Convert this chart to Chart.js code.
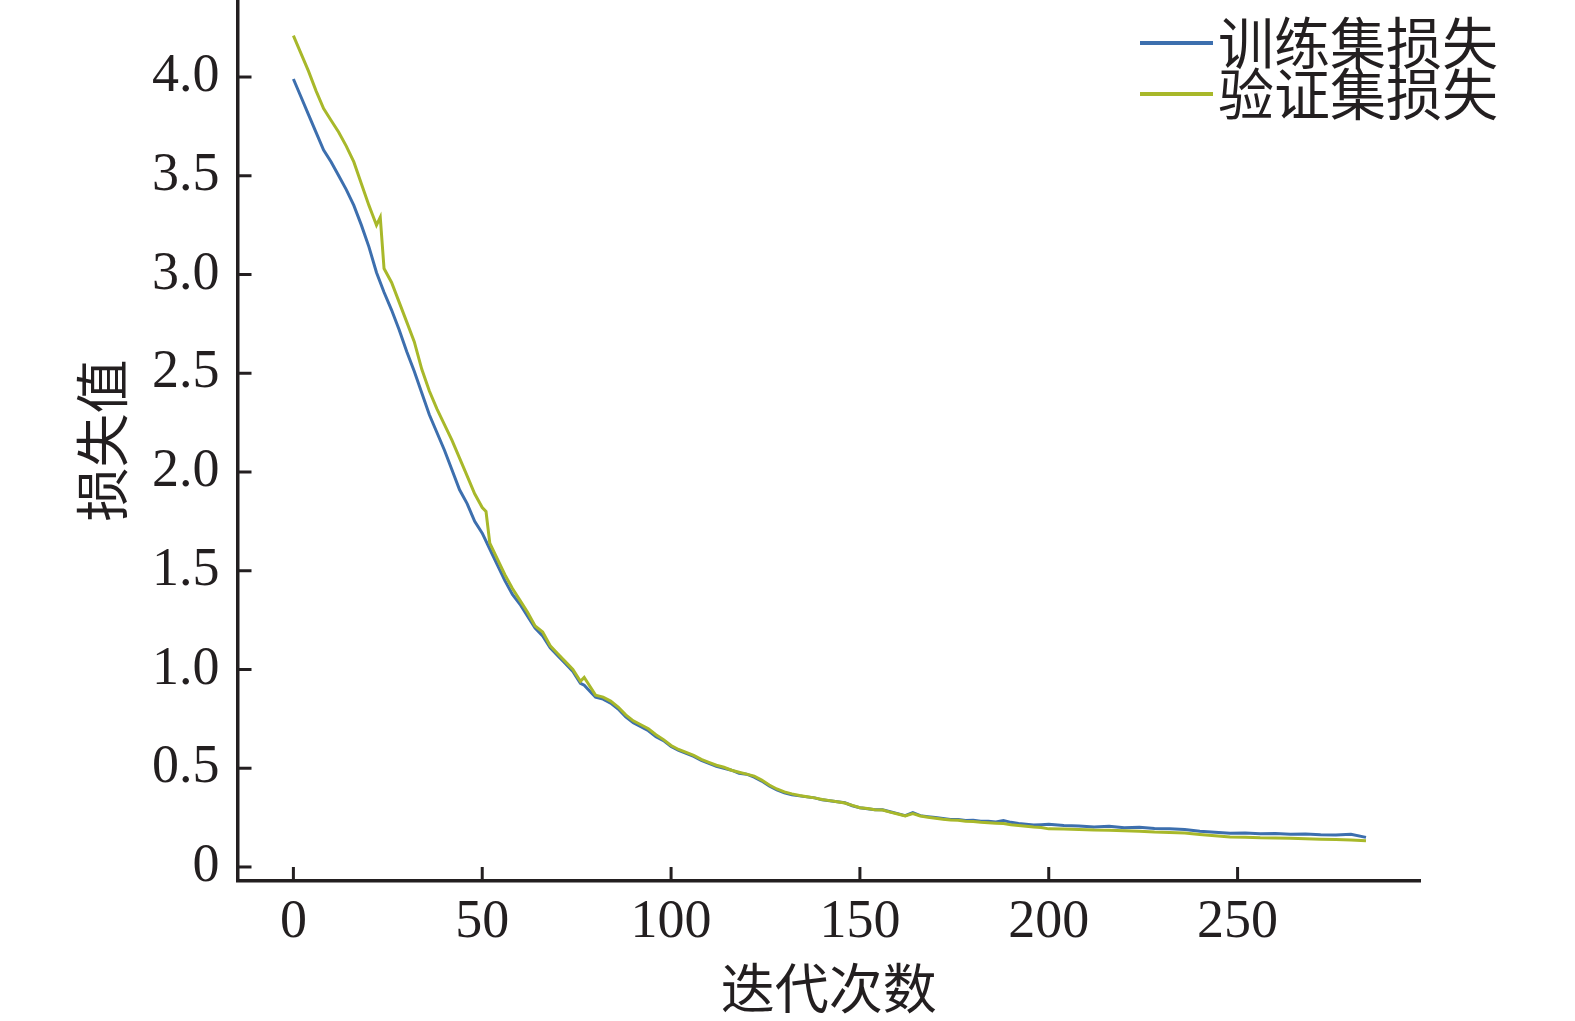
<!DOCTYPE html>
<html lang="zh">
<head>
    <meta charset="UTF-8">
    <title>损失值曲线</title>
    <script src="https://cdn.jsdelivr.net/npm/chart.js"></script>
    <style>
        html, body { margin: 0; padding: 0; background: #fff; }
        #wrap { width: 1575px; height: 1021px; position: relative; }
    </style>
</head>
<body>
<div id="wrap"><canvas id="lossChart"></canvas></div>
<script>
// 训练集损失 (iteration, loss)
var trainIter = [0,2,4,6,8,10,12,14,16,18,20,22,24,26,28,30,32,34,36,38,40,42,44,46,48,50,52,54,56,58,60,62,64,66,68,70,72,74,76,77,78,79,80,82,84,86,88,90,92,94,96,98,100,102,104,106,108,110,112,114,116,118,120,122,124,126,128,130,132,134,136,138,140,142,144,146,148,150,152,154,156,158,160,162,164,166,168,170,172,174,176,178,180,182,184,186,188,190,192,194,196,198,200,204,208,212,216,220,224,228,232,236,240,244,248,252,256,260,264,268,272,276,280,284];
var trainLoss = [3.99,3.90,3.81,3.72,3.63,3.57,3.50,3.43,3.35,3.25,3.14,3.01,2.91,2.82,2.72,2.61,2.51,2.40,2.29,2.20,2.11,2.01,1.91,1.84,1.75,1.69,1.61,1.53,1.45,1.38,1.33,1.27,1.21,1.17,1.11,1.07,1.03,0.99,0.93,0.92,0.90,0.88,0.86,0.85,0.83,0.80,0.76,0.73,0.71,0.69,0.66,0.64,0.61,0.59,0.575,0.56,0.54,0.525,0.51,0.50,0.49,0.475,0.47,0.455,0.435,0.41,0.39,0.375,0.365,0.36,0.355,0.35,0.34,0.335,0.33,0.325,0.31,0.30,0.295,0.29,0.29,0.28,0.27,0.26,0.275,0.26,0.255,0.25,0.245,0.24,0.24,0.235,0.236,0.232,0.232,0.228,0.235,0.226,0.22,0.216,0.212,0.214,0.216,0.21,0.207,0.203,0.206,0.199,0.201,0.195,0.194,0.19,0.181,0.176,0.171,0.172,0.168,0.17,0.166,0.167,0.163,0.162,0.166,0.15];

// 验证集损失
var valIter = [0,2,4,6,8,10,12,14,16,18,20,21,22,23,24,26,28,30,32,34,36,38,40,42,44,46,48,50,51,52,54,56,58,60,62,64,66,68,70,72,74,76,77,78,80,82,84,86,88,90,92,94,96,98,100,102,104,106,108,110,112,114,116,118,120,122,124,126,128,130,132,134,136,138,140,142,144,146,148,150,152,154,156,158,160,162,164,166,168,170,172,174,176,178,180,182,184,186,188,190,192,194,196,198,200,204,208,212,216,220,224,228,232,236,240,244,248,252,256,260,264,268,272,276,280,284];
var valLoss = [4.21,4.12,4.03,3.93,3.84,3.78,3.72,3.65,3.57,3.46,3.35,3.30,3.25,3.29,3.03,2.96,2.86,2.76,2.66,2.52,2.41,2.32,2.24,2.16,2.07,1.98,1.89,1.82,1.80,1.64,1.56,1.48,1.41,1.35,1.29,1.22,1.19,1.12,1.08,1.04,1.00,0.94,0.96,0.93,0.87,0.86,0.84,0.81,0.77,0.74,0.72,0.70,0.67,0.645,0.615,0.595,0.58,0.565,0.545,0.53,0.515,0.505,0.49,0.48,0.47,0.46,0.44,0.415,0.395,0.38,0.37,0.362,0.356,0.35,0.342,0.336,0.33,0.324,0.312,0.30,0.296,0.29,0.288,0.278,0.268,0.258,0.27,0.258,0.252,0.247,0.242,0.238,0.236,0.232,0.23,0.226,0.224,0.222,0.22,0.214,0.21,0.206,0.202,0.2,0.193,0.192,0.19,0.187,0.186,0.183,0.181,0.177,0.175,0.172,0.165,0.158,0.152,0.151,0.148,0.147,0.145,0.143,0.141,0.139,0.137,0.133];

var seriesNames = ['训练集损失', '验证集损失'];
var seriesColors = ['#3d6fae', '#a8b82a'];

var axisColor = '#231f20';
var serif = '"Liberation Serif", "Times New Roman", serif';
var cjk = '"Noto Sans CJK SC", "Liberation Serif", sans-serif';

function toPoints(xs, ys) {
    return xs.map(function (x, i) { return { x: x, y: ys[i] }; });
}

// ticks in this figure point into the plot, so draw them here
var inwardTicks = {
    id: 'inwardTicks',
    afterDraw: function (chart) {
        var ctx = chart.ctx, xs = chart.scales.x, ys = chart.scales.y;
        var area = chart.chartArea, len = 14;
        ctx.save();
        ctx.strokeStyle = axisColor;
        ctx.lineWidth = 3;
        xs.ticks.forEach(function (t) {
            var px = xs.getPixelForValue(t.value);
            ctx.beginPath();
            ctx.moveTo(px, area.bottom);
            ctx.lineTo(px, area.bottom - len);
            ctx.stroke();
        });
        ys.ticks.forEach(function (t) {
            var py = ys.getPixelForValue(t.value);
            ctx.beginPath();
            ctx.moveTo(area.left, py);
            ctx.lineTo(area.left + len, py);
            ctx.stroke();
        });
        ctx.restore();
    }
};

var cornerLegend = {
    id: 'cornerLegend',
    afterDraw: function (chart) {
        var ctx = chart.ctx;
        ctx.save();
        ctx.font = '56px ' + cjk;
        ctx.textBaseline = 'middle';
        ctx.fillStyle = axisColor;
        chart.data.datasets.forEach(function (ds, i) {
            var y = 43 + i * 51;
            ctx.strokeStyle = ds.borderColor;
            ctx.lineWidth = 4;
            ctx.beginPath();
            ctx.moveTo(1140, y);
            ctx.lineTo(1213, y);
            ctx.stroke();
            ctx.fillText(ds.label, 1218, y);
        });
        ctx.restore();
    }
};

new Chart(document.getElementById('lossChart'), {
    type: 'line',
    data: {
        datasets: [
            {
                label: seriesNames[0],
                data: toPoints(trainIter, trainLoss),
                borderColor: seriesColors[0],
                borderWidth: 3,
                pointRadius: 0,
                tension: 0,
                order: 1
            },
            {
                label: seriesNames[1],
                data: toPoints(valIter, valLoss),
                borderColor: seriesColors[1],
                borderWidth: 3,
                pointRadius: 0,
                tension: 0,
                order: 0
            }
        ]
    },
    options: {
        responsive: true,
        maintainAspectRatio: false,
        animation: false,
        layout: { padding: { left: 0, right: 155, top: 0, bottom: 0 } },
        plugins: {
            legend: { display: false },
            tooltip: { enabled: false }
        },
        scales: {
            x: {
                type: 'linear',
                min: -14.8,
                max: 298.3,
                grid: { display: false, drawTicks: false },
                border: { display: true, color: axisColor, width: 3.5 },
                ticks: {
                    stepSize: 50,
                    includeBounds: false,
                    maxRotation: 0,
                    padding: 9,
                    color: axisColor,
                    font: { family: serif, size: 54 }
                },
                title: {
                    display: true,
                    text: '迭代次数',
                    color: axisColor,
                    padding: { top: 0, bottom: 0 },
                    font: { family: cjk, size: 54 }
                },
                afterFit: function (s) {
                    s.height = 140;
                    s.paddingLeft = 0;
                    s.paddingRight = 0;
                }
            },
            y: {
                min: -0.071,
                max: 4.39,
                grid: { display: false, drawTicks: false },
                border: { display: true, color: axisColor, width: 3.5 },
                ticks: {
                    stepSize: 0.5,
                    includeBounds: false,
                    padding: 18,
                    color: axisColor,
                    font: { family: serif, size: 54 },
                    callback: function (v) { return v === 0 ? '0' : v.toFixed(1); }
                },
                title: {
                    display: true,
                    text: '损失值',
                    color: axisColor,
                    padding: { top: 70, bottom: 0 },
                    font: { family: cjk, size: 54 }
                },
                afterFit: function (s) {
                    s.width = 237.5;
                    s.paddingTop = 0;
                    s.paddingBottom = 0;
                }
            }
        }
    },
    plugins: [inwardTicks, cornerLegend]
});
</script>
</body>
</html>
